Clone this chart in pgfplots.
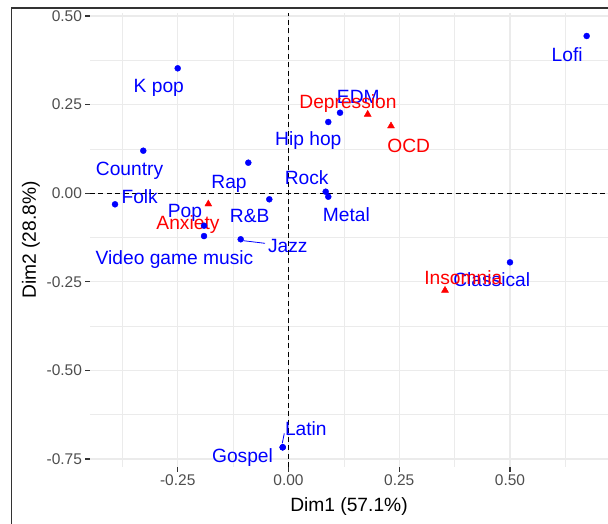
\documentclass[border=0pt]{standalone}
\usepackage{fontspec}
\setmainfont{Liberation Sans}
\usepackage{pgfplots}
\pgfplotsset{compat=1.18}
\definecolor{tickgray}{HTML}{4D4D4D}
\definecolor{gridgray}{HTML}{EBEBEB}
\definecolor{framegray}{HTML}{333333}
\newcommand{\labfont}{\fontsize{19.2}{23}\selectfont}
\newcommand{\tickfont}{\fontsize{15.5}{18}\selectfont}
\begin{document}
\begin{tikzpicture}
\begin{axis}[
  scale only axis, width=518pt, height=454pt,
  xmin=-0.44808, xmax=0.72122, ymin=-0.77257, ymax=0.50847,
  axis line style={draw=none},
  xtick={-0.25,0,0.25,0.5}, ytick={-0.75,-0.5,-0.25,0,0.25,0.5},
  minor xtick={-0.375,-0.125,0.125,0.375,0.625},
  minor ytick={-0.625,-0.375,-0.125,0.125,0.375},
  grid=both,
  major grid style={gridgray, line width=1.2pt},
  minor grid style={gridgray, line width=0.7pt},
  tick align=outside, major tick length=4.5pt, minor tick length=0pt,
  major tick style={framegray, line width=1.2pt},
  xtick pos=bottom, ytick pos=left,
  /pgf/number format/assume math mode=true,
  /pgf/number format/.cd, fixed, fixed zerofill, precision=2, /pgfplots/.cd,
  ticklabel style={font=\tickfont, text=tickgray},
  clip=false,
]
\addplot[black, dash pattern=on 5pt off 3.5pt, line width=1pt] coordinates {(0,-0.77257) (0,0.50847)};
\addplot[black, dash pattern=on 5pt off 3.5pt, line width=1pt] coordinates {(-0.44808,0) (0.72122,0)};
% segments
\draw[blue, line width=0.8pt] (axis cs:-0.1019,-0.1340) -- (axis cs:-0.0530,-0.1414);
\draw[blue, line width=0.8pt] (axis cs:-0.0140,-0.7057) -- (axis cs:-0.0095,-0.6775);
% rows (music genres)
\addplot[only marks, mark=*, mark size=3pt, blue] coordinates {
 (-0.2501,0.3524) (-0.3278,0.1199) (-0.3916,-0.0313) (-0.0907,0.0861)
 (-0.0433,-0.0172) (-0.1907,-0.0917) (-0.1907,-0.1210) (-0.1079,-0.1300)
 (0.0898,0.2009) (0.1163,0.2271) (0.0840,0.0042) (0.0898,-0.0099)
 (0.6731,0.4436) (0.5000,-0.1950) (-0.0131,-0.7170) (-0.0131,-0.7170)
};
% columns (conditions)
\addplot[only marks, mark=triangle*, mark size=4pt, red] coordinates {
 (-0.1810,-0.0305) (0.1788,0.2226) (0.2314,0.1896) (0.3533,-0.2740)
};
\begin{scope}[every node/.style={anchor=base, inner sep=0pt, font=\labfont, text=blue}]
\node at (axis cs:-0.2928,0.2847) {K pop};
\node at (axis cs:-0.3589,0.0494) {Country};
\node at (axis cs:-0.3359,-0.0285) {Folk};
\node at (axis cs:-0.1343,0.0138) {Rap};
\node at (axis cs:-0.2336,-0.0680) {Pop};
\node at (axis cs:-0.0876,-0.0832) {R\&B};
\node at (axis cs:-0.0016,-0.1679) {Jazz};
\node at (axis cs:-0.2573,-0.1998) {Video game music};
\node at (axis cs:0.0447,0.1346) {Hip hop};
\node at (axis cs:0.0411,0.0251) {Rock};
\node at (axis cs:0.1305,-0.0804) {Metal};
\node at (axis cs:0.1576,0.2545) {EDM};
\node at (axis cs:0.6291,0.3730) {Lofi};
\node at (axis cs:0.4587,-0.2638) {Classical};
\node at (axis cs:0.0391,-0.6823) {Latin};
\node at (axis cs:-0.1038,-0.7593) {Gospel};
\end{scope}
\begin{scope}[every node/.style={anchor=base, inner sep=0pt, font=\labfont, text=red}]
\node at (axis cs:-0.2269,-0.1038) {Anxiety};
\node at (axis cs:0.1343,0.2396) {Depression};
\node at (axis cs:0.2713,0.1143) {OCD};
\node at (axis cs:0.3946,-0.2571) {Insomnia};
\end{scope}
\end{axis}
\node[font=\labfont, anchor=center] at (259pt,-40pt) {Dim1 (57.1\%)};
\node[font=\labfont, anchor=center, rotate=90] at (-59pt,227pt) {Dim2 (28.8\%)};
\draw[framegray, line width=1.5pt] (-78.5pt,-60pt) -- (-78.5pt,459pt) -- (530pt,459pt);
\pgfresetboundingbox
\useasboundingbox (-90pt,-56pt) rectangle (518pt,467pt);
\end{tikzpicture}
\end{document}
